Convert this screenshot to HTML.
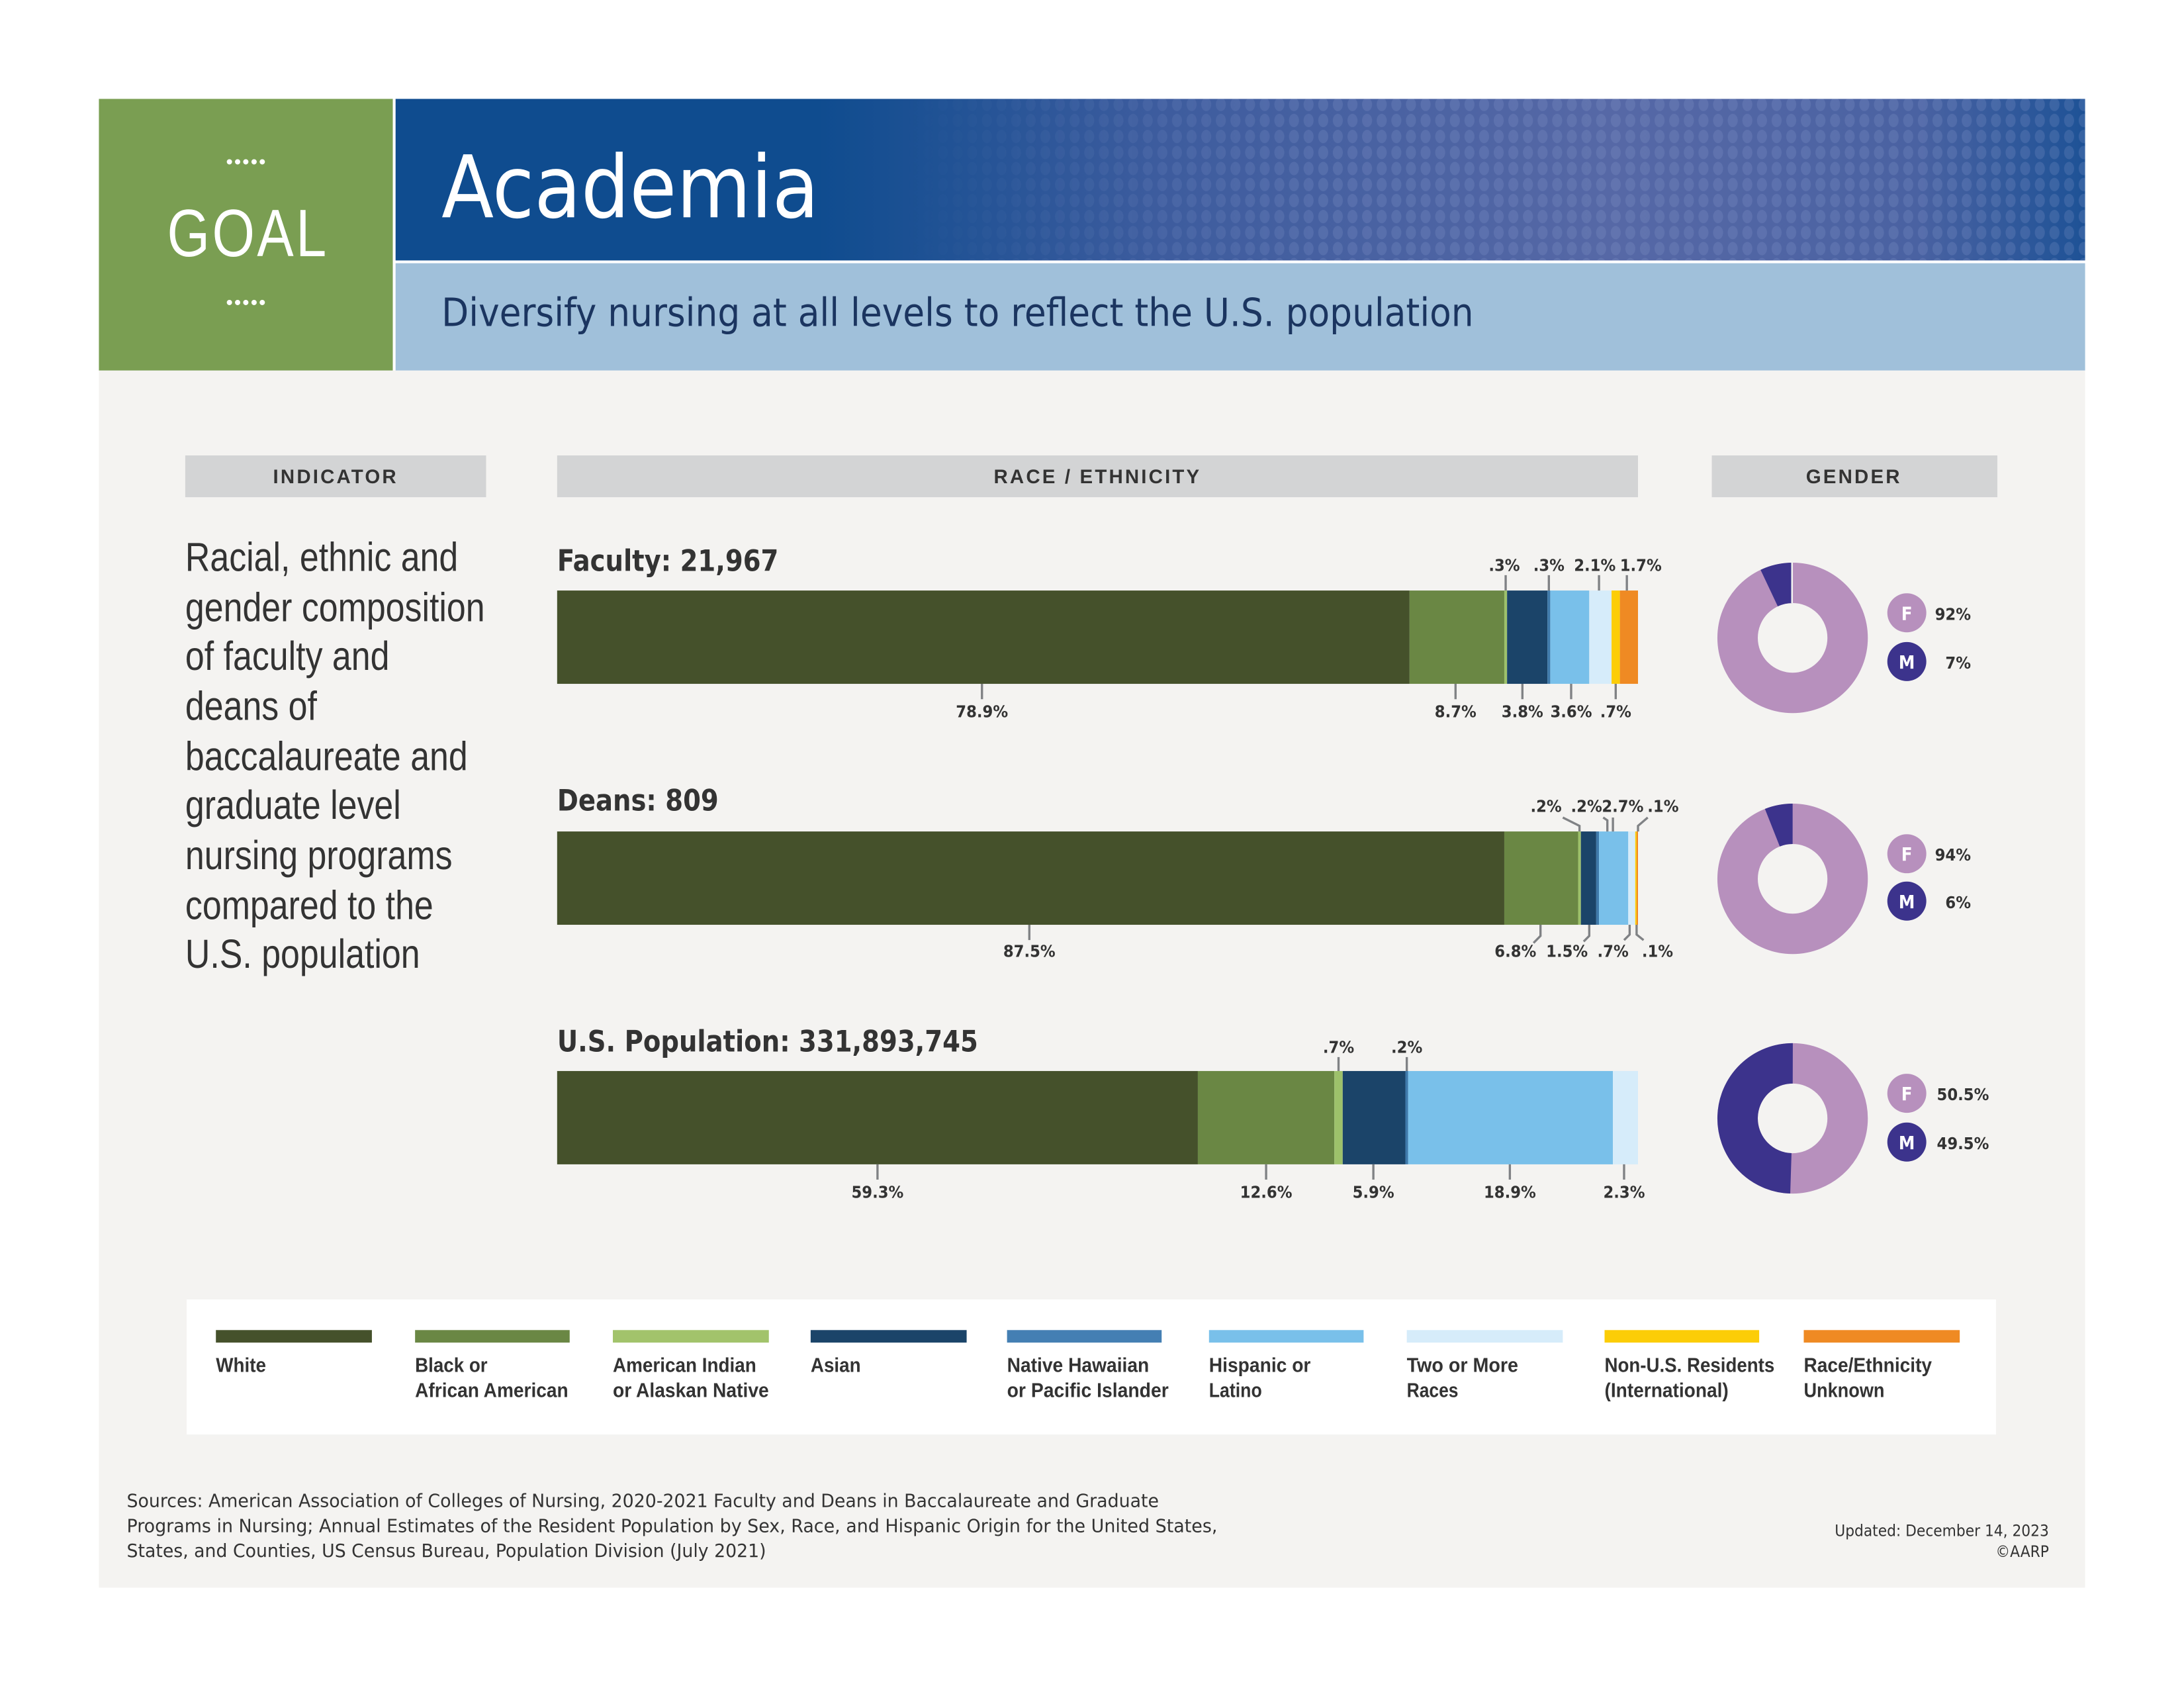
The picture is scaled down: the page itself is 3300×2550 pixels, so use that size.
<!DOCTYPE html>
<html><head><meta charset="utf-8"><style>
html,body{margin:0;padding:0;background:#fff;width:3300px;height:2550px;overflow:hidden}
svg{display:block}
.c{font-family:"Liberation Sans Narrow","Liberation Sans",sans-serif}
.s{font-family:"DejaVu Sans Condensed","DejaVu Sans","Liberation Sans",sans-serif}
</style></head><body>
<svg width="3300" height="2550" viewBox="0 0 1568 1212" preserveAspectRatio="none" xmlns="http://www.w3.org/2000/svg">
<defs>
<linearGradient id="hg" x1="0" x2="1" y1="0" y2="0">
<stop offset="0" stop-color="#0f4c8f"/><stop offset="0.25" stop-color="#0f4c8f"/>
<stop offset="0.45" stop-color="#3d5c9e"/><stop offset="0.72" stop-color="#5668a6"/>
<stop offset="0.9" stop-color="#4a62a2"/><stop offset="1" stop-color="#1e5296"/></linearGradient>
<pattern id="dots" width="10.5" height="11.5" patternUnits="userSpaceOnUse"><ellipse cx="5" cy="6" rx="3.6" ry="4.8" fill="#8fa0cf" opacity="0.22"/></pattern>
<linearGradient id="fade" x1="0" x2="1"><stop offset="0" stop-color="#fff" stop-opacity="0"/><stop offset="0.3" stop-color="#fff" stop-opacity="0"/><stop offset="0.55" stop-color="#fff" stop-opacity="1"/><stop offset="1" stop-color="#fff" stop-opacity="1"/></linearGradient>
<mask id="m"><rect x="284" y="71" width="1213" height="116" fill="url(#fade)"/></mask>
</defs>
<rect width="1568" height="1212" fill="#fff"/>
<rect x="71" y="266" width="1426" height="874" fill="#f4f3f1"/>
<!-- header -->
<rect x="71" y="71" width="211" height="195" fill="#7a9e52"/>
<text x="177" y="121" text-anchor="middle" fill="#fff" class="c" font-size="14" letter-spacing="1">•••••</text>
<text x="178" y="184" text-anchor="middle" fill="#fff" class="c" font-size="48" letter-spacing="2" textLength="116" lengthAdjust="spacingAndGlyphs">GOAL</text>
<text x="177" y="222" text-anchor="middle" fill="#fff" class="c" font-size="14" letter-spacing="1">•••••</text>
<rect x="284" y="71" width="1213" height="116" fill="url(#hg)"/>
<rect x="284" y="71" width="1213" height="116" fill="url(#dots)" mask="url(#m)"/>
<text x="317" y="156" fill="#fff" class="s" font-size="62" textLength="271" lengthAdjust="spacingAndGlyphs">Academia</text>
<rect x="284" y="189" width="1213" height="77" fill="#a0c0da"/>
<text x="317" y="234" fill="#1b3560" class="s" font-size="28" textLength="741" lengthAdjust="spacingAndGlyphs">Diversify nursing at all levels to reflect the U.S. population</text>
<!-- column heads -->
<rect x="133" y="327" width="216" height="30" fill="#d3d4d5"/>
<text x="241" y="347" text-anchor="middle" class="c" font-weight="bold" font-size="14" letter-spacing="1.5" fill="#333">INDICATOR</text>
<rect x="400" y="327" width="776" height="30" fill="#d3d4d5"/>
<text x="788" y="347" text-anchor="middle" class="c" font-weight="bold" font-size="14" letter-spacing="1.5" fill="#333">RACE / ETHNICITY</text>
<rect x="1229" y="327" width="205" height="30" fill="#d3d4d5"/>
<text x="1331" y="347" text-anchor="middle" class="c" font-weight="bold" font-size="14" letter-spacing="1.5" fill="#333">GENDER</text>
<g class="c" font-size="29" fill="#333" transform="translate(133 0) scale(0.85 1) translate(-133 0)">
<text x="133" y="410">Racial, ethnic and</text>
<text x="133" y="446">gender composition</text>
<text x="133" y="481">of faculty and</text>
<text x="133" y="517">deans of</text>
<text x="133" y="553">baccalaureate and</text>
<text x="133" y="588">graduate level</text>
<text x="133" y="624">nursing programs</text>
<text x="133" y="660">compared to the</text>
<text x="133" y="695">U.S. population</text>
</g>
<g class="s" font-weight="bold" font-size="21" fill="#333" transform="translate(400 0) scale(0.97 1) translate(-400 0)">
<text x="400" y="410">Faculty: 21,967</text>
<text x="400" y="582">Deans: 809</text>
<text x="400" y="755">U.S. Population: 331,893,745</text>
</g>
<!-- Faculty bar -->
<g>
<rect x="400" y="424" width="612" height="67" fill="#45512b"/>
<rect x="1012" y="424" width="68" height="67" fill="#6a8744"/>
<rect x="1080" y="424" width="2" height="67" fill="#9dc16b"/>
<rect x="1082" y="424" width="29" height="67" fill="#1b4469"/>
<rect x="1111" y="424" width="2" height="67" fill="#3f7aab"/>
<rect x="1113" y="424" width="28" height="67" fill="#79c0ea"/>
<rect x="1141" y="424" width="16" height="67" fill="#d6ecfa"/>
<rect x="1157" y="424" width="6" height="67" fill="#fccd07"/>
<rect x="1163" y="424" width="13" height="67" fill="#ef8a23"/>
</g>
<!-- Deans bar -->
<g>
<rect x="400" y="597" width="680" height="67" fill="#45512b"/>
<rect x="1080" y="597" width="53" height="67" fill="#6a8744"/>
<rect x="1133" y="597" width="2" height="67" fill="#9dc16b"/>
<rect x="1135" y="597" width="11" height="67" fill="#1b4469"/>
<rect x="1146" y="597" width="2" height="67" fill="#3f7aab"/>
<rect x="1148" y="597" width="21" height="67" fill="#79c0ea"/>
<rect x="1169" y="597" width="5" height="67" fill="#d6ecfa"/>
<rect x="1174" y="597" width="1" height="67" fill="#fccd07"/>
<rect x="1175" y="597" width="1" height="67" fill="#ef8a23"/>
</g>
<!-- US bar -->
<g>
<rect x="400" y="769" width="460" height="67" fill="#45512b"/>
<rect x="860" y="769" width="98" height="67" fill="#6a8744"/>
<rect x="958" y="769" width="6" height="67" fill="#9dc16b"/>
<rect x="964" y="769" width="45" height="67" fill="#1b4469"/>
<rect x="1009" y="769" width="2" height="67" fill="#3f7aab"/>
<rect x="1011" y="769" width="147" height="67" fill="#79c0ea"/>
<rect x="1158" y="769" width="18" height="67" fill="#d6ecfa"/>
</g>
<!-- ticks -->
<g stroke="#808285" stroke-width="1.6" fill="none">
<path d="M1081 413V424M1112 413V424M1148 413V424M1168 413V424"/>
<path d="M705 491V502M1045 491V502M1093 491V502M1128 491V502M1160 491V502"/>
<path d="M1122 587L1134 593V597M1151 587L1154 589V597M1158 587V597M1183 587L1176 593V597"/>
<path d="M739 664V675M1106 664V672L1101 677M1141 664V672L1137 676M1170 664V671L1166 675M1175 664V671L1180 675"/>
<path d="M961 759V769M1010 759V769"/>
<path d="M630 836V847M909 836V847M986 836V847M1084 836V847M1166 836V847"/>
</g>
<g class="s" font-weight="bold" font-size="12" fill="#333" text-anchor="middle">
<text x="1080" y="410">.3%</text><text x="1112" y="410">.3%</text><text x="1145" y="410">2.1%</text><text x="1178" y="410">1.7%</text>
<text x="705" y="515">78.9%</text><text x="1045" y="515">8.7%</text><text x="1093" y="515">3.8%</text><text x="1128" y="515">3.6%</text><text x="1160" y="515">.7%</text>
<text x="1110" y="583">.2%</text><text x="1139" y="583">.2%</text><text x="1165" y="583">2.7%</text><text x="1194" y="583">.1%</text>
<text x="739" y="687">87.5%</text><text x="1088" y="687">6.8%</text><text x="1125" y="687">1.5%</text><text x="1158" y="687">.7%</text><text x="1190" y="687">.1%</text>
<text x="961" y="756">.7%</text><text x="1010" y="756">.2%</text>
<text x="630" y="860">59.3%</text><text x="909" y="860">12.6%</text><text x="986" y="860">5.9%</text><text x="1084" y="860">18.9%</text><text x="1166" y="860">2.3%</text>
</g>
<!-- donuts -->
<g fill="none" stroke-width="29">
<circle cx="1287" cy="458" r="39.5" stroke="#b790bd"/>
<circle cx="1287" cy="458" r="39.5" stroke="#3c338c" stroke-dasharray="17.4 300" transform="rotate(-115.2 1287 458)"/>
<line x1="1286.6" y1="404" x2="1286.6" y2="433" stroke="#f4f3f1" stroke-width="1.2"/>
<circle cx="1287" cy="631" r="39.5" stroke="#b790bd"/>
<circle cx="1287" cy="631" r="39.5" stroke="#3c338c" stroke-dasharray="14.9 300" transform="rotate(-111.6 1287 631)"/>
<circle cx="1287" cy="803" r="39.5" stroke="#b790bd"/>
<circle cx="1287" cy="803" r="39.5" stroke="#3c338c" stroke-dasharray="122.9 300" transform="rotate(-268.2 1287 803)"/>
</g>
<g class="s" font-weight="bold">
<circle cx="1369" cy="440" r="14" fill="#b790bd"/><text x="1369" y="445" text-anchor="middle" fill="#fff" font-size="13">F</text>
<circle cx="1369" cy="475" r="14" fill="#3c338c"/><text x="1369" y="480" text-anchor="middle" fill="#fff" font-size="13">M</text>
<text x="1415" y="445" text-anchor="end" fill="#333" font-size="12">92%</text>
<text x="1415" y="480" text-anchor="end" fill="#333" font-size="12">7%</text>
<circle cx="1369" cy="613" r="14" fill="#b790bd"/><text x="1369" y="618" text-anchor="middle" fill="#fff" font-size="13">F</text>
<circle cx="1369" cy="647" r="14" fill="#3c338c"/><text x="1369" y="652" text-anchor="middle" fill="#fff" font-size="13">M</text>
<text x="1415" y="618" text-anchor="end" fill="#333" font-size="12">94%</text>
<text x="1415" y="652" text-anchor="end" fill="#333" font-size="12">6%</text>
<circle cx="1369" cy="785" r="14" fill="#b790bd"/><text x="1369" y="790" text-anchor="middle" fill="#fff" font-size="13">F</text>
<circle cx="1369" cy="820" r="14" fill="#3c338c"/><text x="1369" y="825" text-anchor="middle" fill="#fff" font-size="13">M</text>
<text x="1428" y="790" text-anchor="end" fill="#333" font-size="12">50.5%</text>
<text x="1428" y="825" text-anchor="end" fill="#333" font-size="12">49.5%</text>
</g>
<!-- legend -->
<rect x="134" y="933" width="1299" height="97" fill="#fff"/>
<g>
<rect x="155" y="955" width="112" height="9" fill="#45512b"/>
<rect x="298" y="955" width="111" height="9" fill="#6a8744"/>
<rect x="440" y="955" width="112" height="9" fill="#a2c36b"/>
<rect x="582" y="955" width="112" height="9" fill="#1b4469"/>
<rect x="723" y="955" width="111" height="9" fill="#447fb3"/>
<rect x="868" y="955" width="111" height="9" fill="#79c0ea"/>
<rect x="1010" y="955" width="112" height="9" fill="#d6ecfa"/>
<rect x="1152" y="955" width="111" height="9" fill="#fccd07"/>
<rect x="1295" y="955" width="112" height="9" fill="#ef8a23"/>
</g>
<g class="c" font-weight="bold" font-size="14.5" fill="#333">
<text x="155" y="985" textLength="36" lengthAdjust="spacingAndGlyphs">White</text>
<text x="298" y="985" textLength="52" lengthAdjust="spacingAndGlyphs">Black or</text><text x="298" y="1003" textLength="110" lengthAdjust="spacingAndGlyphs">African American</text>
<text x="440" y="985" textLength="103" lengthAdjust="spacingAndGlyphs">American Indian</text><text x="440" y="1003" textLength="112" lengthAdjust="spacingAndGlyphs">or Alaskan Native</text>
<text x="582" y="985" textLength="36" lengthAdjust="spacingAndGlyphs">Asian</text>
<text x="723" y="985" textLength="102" lengthAdjust="spacingAndGlyphs">Native Hawaiian</text><text x="723" y="1003" textLength="116" lengthAdjust="spacingAndGlyphs">or Pacific Islander</text>
<text x="868" y="985" textLength="73" lengthAdjust="spacingAndGlyphs">Hispanic or</text><text x="868" y="1003" textLength="38" lengthAdjust="spacingAndGlyphs">Latino</text>
<text x="1010" y="985" textLength="80" lengthAdjust="spacingAndGlyphs">Two or More</text><text x="1010" y="1003" textLength="37" lengthAdjust="spacingAndGlyphs">Races</text>
<text x="1152" y="985" textLength="122" lengthAdjust="spacingAndGlyphs">Non-U.S. Residents</text><text x="1152" y="1003" textLength="89" lengthAdjust="spacingAndGlyphs">(International)</text>
<text x="1295" y="985" textLength="92" lengthAdjust="spacingAndGlyphs">Race/Ethnicity</text><text x="1295" y="1003" textLength="58" lengthAdjust="spacingAndGlyphs">Unknown</text>
</g>
<g class="s" font-size="13" fill="#333">
<text x="91" y="1082" textLength="741" lengthAdjust="spacingAndGlyphs">Sources: American Association of Colleges of Nursing, 2020-2021 Faculty and Deans in Baccalaureate and Graduate</text>
<text x="91" y="1100" textLength="783" lengthAdjust="spacingAndGlyphs">Programs in Nursing; Annual Estimates of the Resident Population by Sex, Race, and Hispanic Origin for the United States,</text>
<text x="91" y="1118" textLength="459" lengthAdjust="spacingAndGlyphs">States, and Counties, US Census Bureau, Population Division (July 2021)</text>
</g>
<g class="s" font-size="11.5" fill="#333" text-anchor="end">
<text x="1471" y="1103">Updated: December 14, 2023</text>
<text x="1471" y="1118">©AARP</text>
</g>
</svg>
</body></html>
